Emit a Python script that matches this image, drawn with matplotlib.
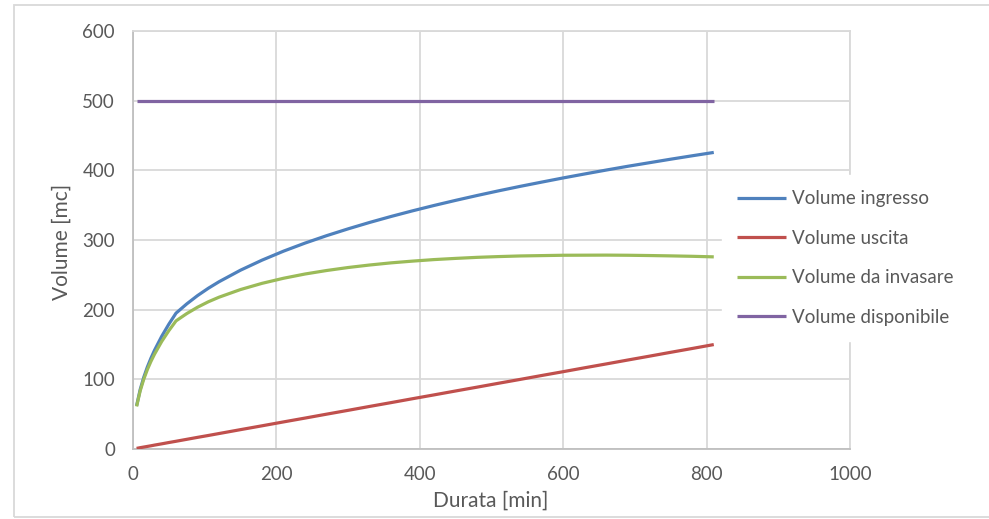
import matplotlib
matplotlib.use("Agg")
import matplotlib.pyplot as plt
from matplotlib.patches import Rectangle

# durata [min]
durata = [5, 10, 15, 20, 25, 30, 40, 50, 60, 75, 90, 105, 120, 150, 180, 210,
          240, 270, 300, 330, 360, 390, 420, 450, 480, 510, 540, 570, 600, 630,
          660, 690, 720, 750, 780, 810]

# volumi [mc]
vol_ingresso = [62.0, 85.3, 102.9, 117.6, 130.3, 141.7, 161.7, 179.2, 195.0,
                208.3, 220.2, 230.7, 240.1, 256.7, 271.1, 284.0, 295.6, 306.2,
                316.0, 325.2, 333.8, 341.9, 349.6, 356.9, 363.9, 370.6, 377.0,
                383.1, 389.1, 394.8, 400.4, 405.8, 410.9, 416.0, 420.9, 425.7]
vol_uscita = [0.9, 1.9, 2.8, 3.7, 4.6, 5.6, 7.4, 9.3, 11.1, 13.9, 16.7, 19.4,
              22.2, 27.8, 33.3, 38.9, 44.4, 50.0, 55.5, 61.1, 66.6, 72.2, 77.7,
              83.3, 88.8, 94.4, 99.9, 105.5, 111.0, 116.6, 122.1, 127.7, 133.2,
              138.8, 144.3, 149.9]
vol_invasare = [61.1, 83.4, 100.1, 113.9, 125.7, 136.1, 154.3, 169.9, 183.9,
                194.4, 203.5, 211.3, 217.9, 228.9, 237.8, 245.1, 251.2, 256.2,
                260.5, 264.1, 267.2, 269.7, 271.9, 273.6, 275.1, 276.2, 277.1,
                277.6, 278.1, 278.2, 278.3, 278.1, 277.7, 277.2, 276.6, 275.8]
vol_disponibile = [500] * len(durata)

series = [
    ("Volume ingresso", vol_ingresso, "#4F81BD"),
    ("Volume uscita", vol_uscita, "#C0504D"),
    ("Volume da invasare", vol_invasare, "#9BBB59"),
    ("Volume disponibile", vol_disponibile, "#8064A2"),
]

plt.rcParams['font.family'] = ['Lato', 'DejaVu Sans']
text_color = "#595959"
grid_color = "#D9D9D9"

fig = plt.figure(figsize=(9.89, 5.19), dpi=100)
ax = fig.add_axes([133 / 989, 1 - 449 / 519, (850 - 133) / 989, (449 - 31) / 519])

for label, values, color in series:
    ax.plot(durata, values, color=color, lw=2.3, label=label,
            solid_capstyle='butt', solid_joinstyle='round', zorder=3)

ax.set_xlim(0, 1000)
ax.set_ylim(0, 600)
ax.set_xticks(range(0, 1001, 200))
ax.set_yticks(range(0, 601, 100))
ax.grid(True, color=grid_color, lw=1.3)
ax.set_axisbelow(True)
for side in ax.spines.values():
    side.set_color(grid_color)
    side.set_linewidth(1.3)
ax.spines['left'].set_color("#BFBFBF")
ax.spines['bottom'].set_color("#BFBFBF")
ax.tick_params(length=0, labelsize=13.5, labelcolor=text_color)
ax.tick_params(axis='y', pad=13)
ax.tick_params(axis='x', pad=12)

fig.text(491 / 989, 1 - 501 / 519, "Durata [min]", ha='center', va='center',
         fontsize=15, color=text_color)
fig.text(62 / 989, 1 - 242 / 519, "Volume [mc]", ha='center', va='center',
         rotation=90, fontsize=15, color=text_color)

leg = fig.legend(loc='center left', bbox_to_anchor=(722 / 989, 1 - 258 / 519),
                 frameon=True, fancybox=False, fontsize=13.5, handlelength=2.6,
                 handletextpad=0.35, labelspacing=1.2, borderpad=0.8,
                 borderaxespad=0)
leg.get_frame().set_facecolor("white")
leg.get_frame().set_edgecolor("white")
leg.get_frame().set_alpha(1)
for t in leg.get_texts():
    t.set_color(text_color)

fig.patches.append(Rectangle((14 / 989, 2 / 519), 1.0, 512 / 519,
                             transform=fig.transFigure, fill=False,
                             edgecolor=grid_color, lw=1.3))

fig.savefig("out.png", dpi=100, facecolor="white")
